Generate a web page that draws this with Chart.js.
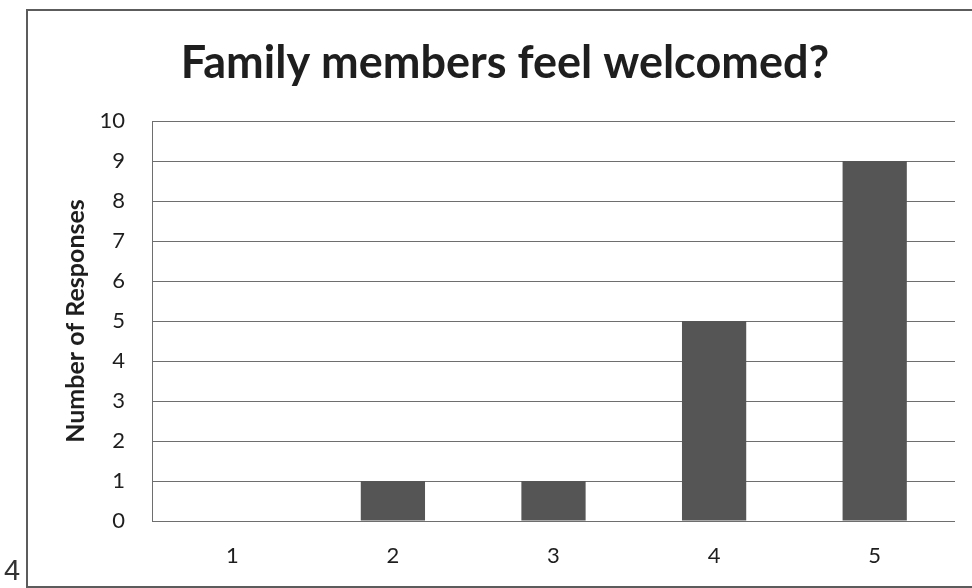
<!DOCTYPE html>
<html>
<head>
<meta charset="utf-8">
<script src="https://cdn.jsdelivr.net/npm/chart.js@4"></script>
<style>
  html,body{margin:0;padding:0;background:#fff;}
  #wrap{position:relative;width:972px;height:588px;overflow:hidden;}
  #pageNo{position:absolute;left:4px;top:556px;font:29px/1 "Liberation Sans",Arial,sans-serif;color:#333;}
</style>
</head>
<body>
<div id="wrap">
  <canvas id="chart" width="972" height="588"></canvas>
  <div id="pageNo">4</div>
</div>
<script>
// survey ratings 1..5 and how many people picked each
const ratings = ['1','2','3','4','5'];
const responses = [0, 1, 1, 5, 9];
const yMin = 0, yMax = 10, yStep = 1;

const TEXT = '#1e1e1e';
const GRID = '#6e6e6e';
const BAR = '#555555';

// frame around the whole chart (right edge runs off the page)
const framePlugin = {
  id: 'frame',
  beforeDraw(chart){
    const c = chart.ctx;
    c.save();
    c.fillStyle = '#fff';
    c.fillRect(0, 0, chart.width, chart.height);
    c.strokeStyle = '#5c5c5c';
    c.lineWidth = 2;
    c.beginPath();
    c.moveTo(chart.width + 5, 10);
    c.lineTo(27, 10);
    c.lineTo(27, 587);
    c.lineTo(chart.width + 5, 587);
    c.stroke();
    c.restore();
  }
};

new Chart(document.getElementById('chart'), {
  type: 'bar',
  data: {
    labels: ratings,
    datasets: [{
      data: responses,
      backgroundColor: BAR,
      borderWidth: 0,
      categoryPercentage: 1,
      barPercentage: 0.4
    }]
  },
  options: {
    responsive: false,
    animation: false,
    layout: { padding: { left: 55, right: 17, top: 0, bottom: 0 } },
    plugins: {
      legend: { display: false },
      tooltip: { enabled: false },
      title: {
        display: true,
        text: 'Family members feel welcomed?',
        color: TEXT,
        font: { family: 'Lato', size: 45, weight: 'bold', lineHeight: 1.2 },
        padding: { top: 36, bottom: 31 }
      }
    },
    scales: {
      x: {
        grid: { display: false, drawTicks: false },
        border: { display: false },
        ticks: { color: TEXT, padding: 22, font: { family: 'Lato', size: 22 } },
        afterFit(s){ s.height = 67; }
      },
      y: {
        min: yMin,
        max: yMax,
        ticks: { stepSize: yStep, color: TEXT, padding: 27, font: { family: 'Lato', size: 22 } },
        grid: { color: GRID, lineWidth: 1, drawTicks: false },
        border: { display: true, color: GRID, width: 1 },
        title: {
          display: true,
          text: 'Number of Responses',
          color: TEXT,
          font: { family: 'Lato', size: 25, weight: 'bold', lineHeight: 1.2 },
          padding: { top: 6 }
        },
        afterFit(s){ s.width = 97; }
      }
    }
  },
  plugins: [framePlugin]
});
</script>
</body>
</html>
